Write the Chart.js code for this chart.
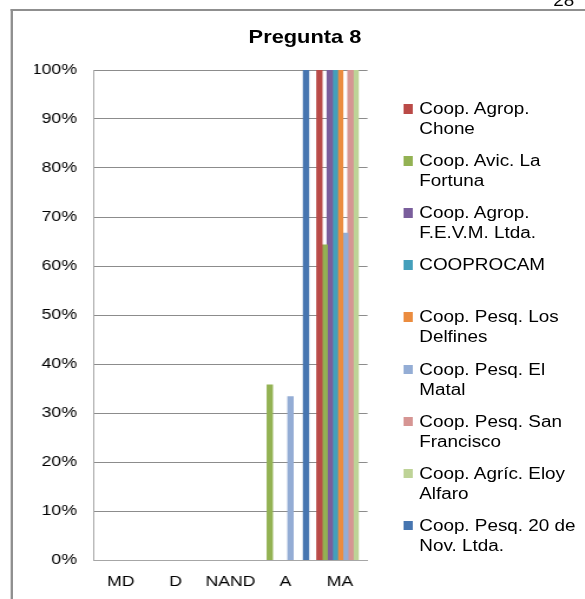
<!DOCTYPE html>
<html>
<head>
<meta charset="utf-8">
<script src="https://cdn.jsdelivr.net/npm/chart.js@4.4.1/dist/chart.umd.min.js"></script>
<style>
  html, body { margin:0; padding:0; background:#fff; width:585px; height:599px; overflow:hidden; }
  #wrap { position:absolute; left:0; top:0; width:496px; height:599px; transform-origin:0 0; transform:scaleX(1.1794); font-family:"Liberation Sans", Arial, sans-serif; }
  #frame { position:absolute; left:8.5px; top:9px; width:600px; height:700px; border-left:2px solid #8f8f8f; border-top:2px solid #8f8f8f; }
  #pg { position:absolute; left:469px; top:-7.5px; font-size:16px; line-height:16px; color:#000; }
  #title { position:absolute; left:158.6px; width:200px; top:27.6px; text-align:center; font-weight:bold; font-size:18.5px; line-height:18.5px; color:#000; }
  #chartBox { position:absolute; left:0; top:0; width:496px; height:599px; }
  #legend { position:absolute; left:0; top:0; }
  .li { position:absolute; left:341.7px; }
  .sw { position:absolute; left:0; top:5px; width:8.5px; height:9.5px; }
  .tx { position:absolute; left:13.8px; top:0; white-space:nowrap; font-size:16px; line-height:20px; color:#000; }
</style>
</head>
<body>
<div id="wrap">
  <div id="frame"></div>
  <div id="pg">28</div>
  <div id="title">Pregunta 8</div>
  <div id="chartBox"><canvas id="c"></canvas></div>
  <div id="legend"></div>
</div>
<script>
const categories = ['MD', 'D', 'NAND', 'A', 'MA'];
const yTicks = [0, 10, 20, 30, 40, 50, 60, 70, 80, 90, 100];

const seriesNames = [
  ['Coop. Agrop.', 'Chone'],
  ['Coop. Avic. La', 'Fortuna'],
  ['Coop. Agrop.', 'F.E.V.M. Ltda.'],
  ['COOPROCAM'],
  ['Coop. Pesq. Los', 'Delfines'],
  ['Coop. Pesq. El', 'Matal'],
  ['Coop. Pesq. San', 'Francisco'],
  ['Coop. Agríc. Eloy', 'Alfaro'],
  ['Coop. Pesq. 20 de', 'Nov. Ltda.']
];

const chone        = [0, 0, 0, 0, 100];
const laFortuna    = [0, 0, 0, 35.7, 64.3];
const fevm         = [0, 0, 0, 0, 100];
const cooprocam    = [0, 0, 0, 0, 100];
const losDelfines  = [0, 0, 0, 0, 100];
const elMatal      = [0, 0, 0, 33.3, 66.7];
const sanFrancisco = [0, 0, 0, 0, 100];
const eloyAlfaro   = [0, 0, 0, 0, 100];
const nov20        = [0, 0, 0, 100, 0];

const seriesValues = [chone, laFortuna, fevm, cooprocam, losDelfines, elMatal, sanFrancisco, eloyAlfaro, nov20];
const seriesColors = ['#BA4A47', '#93B253', '#7A5E9C', '#449FBB', '#EB8C3F', '#94ADD5', '#D69593', '#BED397', '#4675B0'];

const datasets = seriesValues.map((vals, i) => ({
  label: seriesNames[i].join(' '),
  data: vals,
  backgroundColor: seriesColors[i],
  borderWidth: 0,
  inflateAmount: (ctx) => (ctx.raw ? 0.5 : 0),
  categoryPercentage: 0.85,
  barPercentage: 1.0
}));

const tickFont = { family: '"Liberation Sans", Arial, sans-serif', size: 15 };

const chart = new Chart(document.getElementById('c'), {
  type: 'bar',
  data: { labels: categories, datasets: datasets },
  options: {
    responsive: true,
    maintainAspectRatio: false,
    animation: false,
    layout: { padding: { left: 29.3, right: 184.4, top: 70, bottom: 9 } },
    plugins: { legend: { display: false }, title: { display: false }, tooltip: { enabled: false } },
    scales: {
      x: {
        grid: { display: false, drawTicks: false },
        border: { display: true, color: '#a6a6a6', width: 1 },
        ticks: { font: tickFont, color: '#000', padding: 12.7, maxRotation: 0, autoSkip: false },
        afterFit: (s) => { s.height = 30; }
      },
      y: {
        min: 0, max: 100,
        afterBuildTicks: (s) => { s.ticks = yTicks.map(v => ({ value: v })); },
        grid: { color: '#8c8c8c', lineWidth: 1, drawTicks: false },
        border: { display: true, color: '#a6a6a6', width: 1 },
        ticks: { font: tickFont, color: '#000', padding: 14, callback: (v) => v + '%' },
        afterFit: (s) => { s.width = 50; }
      }
    }
  }
});

// HTML legend built from the chart's datasets
const legend = document.getElementById('legend');
chart.data.datasets.forEach((ds, i) => {
  const item = document.createElement('div');
  item.className = 'li';
  item.style.top = (109 + 52.1 * i - 10) + 'px';
  const sw = document.createElement('div');
  sw.className = 'sw';
  sw.style.background = ds.backgroundColor;
  const tx = document.createElement('div');
  tx.className = 'tx';
  seriesNames[i].forEach((line, k) => {
    if (k > 0) tx.appendChild(document.createElement('br'));
    tx.appendChild(document.createTextNode(line));
  });
  item.appendChild(sw);
  item.appendChild(tx);
  legend.appendChild(item);
});
</script>
</body>
</html>
